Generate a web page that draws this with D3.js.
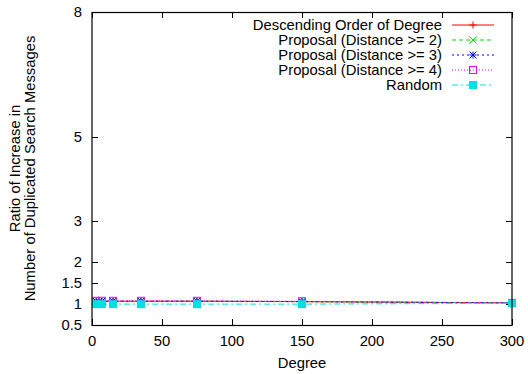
<!DOCTYPE html>
<html><head><meta charset="utf-8">
<script src="https://cdn.jsdelivr.net/npm/d3@7"></script>
<style>body{margin:0;background:#fff}svg{display:block;font-family:"Liberation Sans",Arial,sans-serif}</style>
</head><body>
<svg id="c" width="528" height="374"></svg>
<script>
const degrees = [3, 7, 15, 35, 75, 150, 300];
const descending = [1.07, 1.07, 1.07, 1.07, 1.07, 1.06, 1.03];
const proposal2 = [1.06, 1.06, 1.06, 1.06, 1.07, 1.06, 1.03];
const proposal3 = [1.07, 1.07, 1.07, 1.07, 1.07, 1.06, 1.03];
const proposal4 = [1.08, 1.08, 1.08, 1.08, 1.08, 1.07, 1.03];
const random = [1.0, 1.0, 1.0, 1.0, 1.0, 1.0, 1.02];
const seriesNames = ["Descending Order of Degree", "Proposal (Distance >= 2)", "Proposal (Distance >= 3)", "Proposal (Distance >= 4)", "Random"];
const xTicks = [0, 50, 100, 150, 200, 250, 300];
const yTicks = [0.5, 1, 1.5, 2, 3, 5, 8];

const series = [
  {name: seriesNames[0], vals: descending, color: "#ff0000", dash: null, marker: "plus"},
  {name: seriesNames[1], vals: proposal2, color: "#00dd00", dash: "4,3", marker: "cross"},
  {name: seriesNames[2], vals: proposal3, color: "#0000ff", dash: "2,3", marker: "star"},
  {name: seriesNames[3], vals: proposal4, color: "#ff00ff", dash: "1,2", marker: "box"},
  {name: seriesNames[4], vals: random, color: "#00e0e0", dash: "6,3,2,3", marker: "fbox"}
];

const L = 92, R = 512, T = 12, B = 325;
const x = d3.scaleLinear().domain([0, 300]).range([L, R]);
const y = d3.scaleLinear().domain([0.5, 8]).range([B, T]);
const svg = d3.select("#c");
const fs = 14.8;

// ticks (inward, mirrored)
const tk = 6;
const g = svg.append("g").attr("stroke", "#000").attr("stroke-width", 1);
xTicks.forEach(v => {
  const px = Math.round(x(v)) + 0.5;
  g.append("line").attr("x1", px).attr("x2", px).attr("y1", B).attr("y2", B - tk);
  g.append("line").attr("x1", px).attr("x2", px).attr("y1", T).attr("y2", T + tk);
});
yTicks.forEach(v => {
  const py = Math.round(y(v)) + 0.5;
  g.append("line").attr("x1", L).attr("x2", L + tk).attr("y1", py).attr("y2", py);
  g.append("line").attr("x1", R).attr("x2", R - tk).attr("y1", py).attr("y2", py);
});

// tick labels
svg.append("g").selectAll("text").data(xTicks).join("text")
  .attr("x", d => x(d)).attr("y", 346).attr("text-anchor", "middle")
  .attr("font-size", fs).attr("fill", "#000").text(d => d);
svg.append("g").selectAll("text").data(yTicks).join("text")
  .attr("x", 82).attr("y", d => y(d) + 5).attr("text-anchor", "end")
  .attr("font-size", fs).attr("fill", "#000").text(d => d);

// axis titles
svg.append("text").attr("x", (L + R) / 2).attr("y", 368).attr("text-anchor", "middle")
  .attr("font-size", fs).text("Degree");
const yt = svg.append("text").attr("transform", `translate(0,${(T + B) / 2}) rotate(-90)`)
  .attr("text-anchor", "middle").attr("font-size", fs);
yt.append("tspan").attr("x", 0).attr("y", 20).text("Ratio of Increase in");
yt.append("tspan").attr("x", 0).attr("y", 35).text("Number of Duplicated Search Messages");

function drawMarker(sel, type, cx, cy, color) {
  const s = 3.5;
  if (type === "plus") {
    sel.append("path").attr("d", `M${cx - s},${cy}H${cx + s}M${cx},${cy - s}V${cy + s}`).attr("stroke", color).attr("fill", "none");
  } else if (type === "cross") {
    sel.append("path").attr("d", `M${cx - s},${cy - s}L${cx + s},${cy + s}M${cx - s},${cy + s}L${cx + s},${cy - s}`).attr("stroke", color).attr("fill", "none");
  } else if (type === "star") {
    sel.append("path").attr("d", `M${cx - s},${cy}H${cx + s}M${cx},${cy - s}V${cy + s}M${cx - s},${cy - s}L${cx + s},${cy + s}M${cx - s},${cy + s}L${cx + s},${cy - s}`).attr("stroke", color).attr("fill", "none");
  } else if (type === "box") {
    sel.append("rect").attr("x", cx - s).attr("y", cy - s).attr("width", 2 * s).attr("height", 2 * s).attr("stroke", color).attr("fill", "none");
  } else {
    const f = 4;
    sel.append("rect").attr("x", cx - f).attr("y", cy - f).attr("width", 2 * f).attr("height", 2 * f).attr("fill", color);
  }
}

const line = d3.line().x((d, i) => x(degrees[i])).y(d => y(d));
series.forEach(s => {
  svg.append("path").datum(s.vals).attr("d", line).attr("fill", "none")
    .attr("stroke", s.color).attr("stroke-width", 1).attr("stroke-dasharray", s.dash);
  const mg = svg.append("g");
  s.vals.forEach((v, i) => drawMarker(mg, s.marker, x(degrees[i]), y(v), s.color));
});

// legend
series.forEach((s, i) => {
  const ly = 25 + i * 15;
  svg.append("text").attr("x", 442).attr("y", ly + 5).attr("text-anchor", "end")
    .attr("font-size", fs).text(s.name);
  svg.append("line").attr("x1", 452).attr("x2", 494).attr("y1", ly).attr("y2", ly)
    .attr("stroke", s.color).attr("stroke-dasharray", s.dash);
  drawMarker(svg, s.marker, 473, ly, s.color);
});

// frame
svg.append("rect").attr("x", L).attr("y", T + 0.5).attr("width", R - L).attr("height", B - T)
  .attr("fill", "none").attr("stroke", "#000").attr("stroke-width", 1.2);
</script>
</body></html>
